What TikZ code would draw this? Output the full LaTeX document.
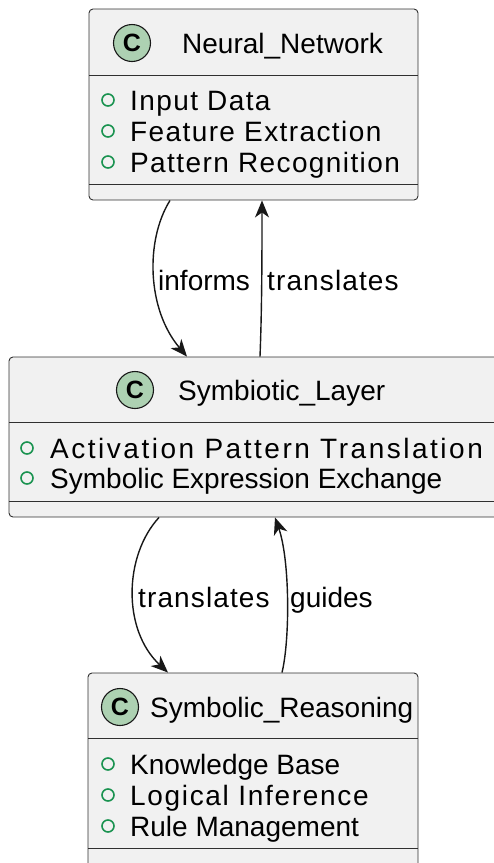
\documentclass[tikz,border=0pt]{standalone}
\usepackage{fontspec}
\setmainfont{Liberation Sans}
\usetikzlibrary{arrows.meta}
\definecolor{boxfill}{HTML}{F1F1F1}
\definecolor{boxline}{HTML}{303030}
\definecolor{linkline}{HTML}{181818}
\definecolor{badgefill}{HTML}{ADD1B2}
\definecolor{fieldline}{HTML}{1A9350}
\newcommand{\spread}[1]{\addfontfeature{LetterSpace=#1}}
\begin{document}
\begin{tikzpicture}[
    x=1pt, y=-1pt,
    font=\fontsize{28}{32}\selectfont,
    classbox/.style={draw=boxline, fill=boxfill, rounded corners=4pt, line width=0.9pt, inner sep=0pt},
    badge/.style={circle, draw=linkline, fill=badgefill, line width=1.1pt, minimum size=37pt, inner sep=0pt, font=\fontsize{25}{25}\selectfont\bfseries},
    field/.style={circle, draw=fieldline, line width=1.6pt, minimum size=12pt, inner sep=0pt},
    txt/.style={anchor=base west, inner sep=0pt},
    link/.style={-{Stealth[length=17pt, width=14pt, inset=5pt]}, line width=1.4pt, draw=linkline}
]
\path[use as bounding box, clip] (0,0) rectangle (494,863);

% Neural_Network
\node[classbox, minimum width=329pt, minimum height=191pt] (nn) at (253.5,104.5) {};
\draw[boxline, line width=0.9pt] (89,75) -- (418,75);
\draw[boxline, line width=0.9pt] (89,184) -- (418,184);
\node[badge] (nnC) at (132,43) {C};
\node[txt] (nnT) at (182,53.5) {Neural\_Network};
\node[field] (nnF1) at (108,100) {};
\node[txt] (nnI1) at (130,110) {\spread{5}Input Data};
\node[field] (nnF2) at (108,131) {};
\node[txt] (nnI2) at (130,141) {\spread{5}Feature Extraction};
\node[field] (nnF3) at (108,162) {};
\node[txt] (nnI3) at (130,172) {\spread{5}Pattern Recognition};

% Symbiotic_Layer
\node[classbox, minimum width=491pt, minimum height=160pt] (sl) at (254.5,437) {};
\draw[boxline, line width=0.9pt] (9,422) -- (500,422);
\draw[boxline, line width=0.9pt] (9,501) -- (500,501);
\node[badge] (slC) at (135,390) {C};
\node[txt] (slT) at (178,400) {Symbiotic\_Layer};
\node[field] (slF1) at (27,448) {};
\node[txt] (slI1) at (50,458) {\spread{9}Activation Pattern Translation};
\node[field] (slF2) at (27,478) {};
\node[txt] (slI2) at (50,488) {Symbolic Expression Exchange};

% Symbolic_Reasoning
\node[classbox, minimum width=330pt, minimum height=197pt] (sr) at (253,771.5) {};
\draw[boxline, line width=0.9pt] (88,738) -- (418,738);
\draw[boxline, line width=0.9pt] (88,848) -- (418,848);
\node[badge] (srC) at (120,707) {C};
\node[txt] (srT) at (150,717) {Symbolic\_Reasoning};
\node[field] (srF1) at (108,764) {};
\node[txt] (srI1) at (130,774) {Knowledge Base};
\node[field] (srF2) at (108,795) {};
\node[txt] (srI2) at (130,805) {\spread{6}Logical Inference};
\node[field] (srF3) at (108,826) {};
\node[txt] (srI3) at (130,836) {Rule Management};

% links
\draw[link] ([xshift=-83.5pt]nn.south) .. controls +(-25,40) and +(-40,-47) .. ([xshift=-67.5pt]sl.north);
\draw[link] ([xshift=5.5pt]sl.north) .. controls +(2,-50) and +(0,50) .. ([xshift=8.5pt]nn.south);
\draw[link] ([xshift=-95.5pt]sl.south) .. controls +(-35,38) and +(-46,-43) .. ([xshift=-85pt]sr.north);
\draw[link] ([xshift=29pt]sr.north) .. controls +(8,-33) and +(15,43) .. ([xshift=20.5pt]sl.south);

% link labels
\node[txt] (lbInforms) at (158,290) {informs};
\node[txt] (lbTransUp) at (267,290) {\spread{4}translates};
\node[txt] (lbTransDn) at (138,607) {\spread{4}translates};
\node[txt] (lbGuides) at (290,607) {guides};
\end{tikzpicture}
\end{document}
